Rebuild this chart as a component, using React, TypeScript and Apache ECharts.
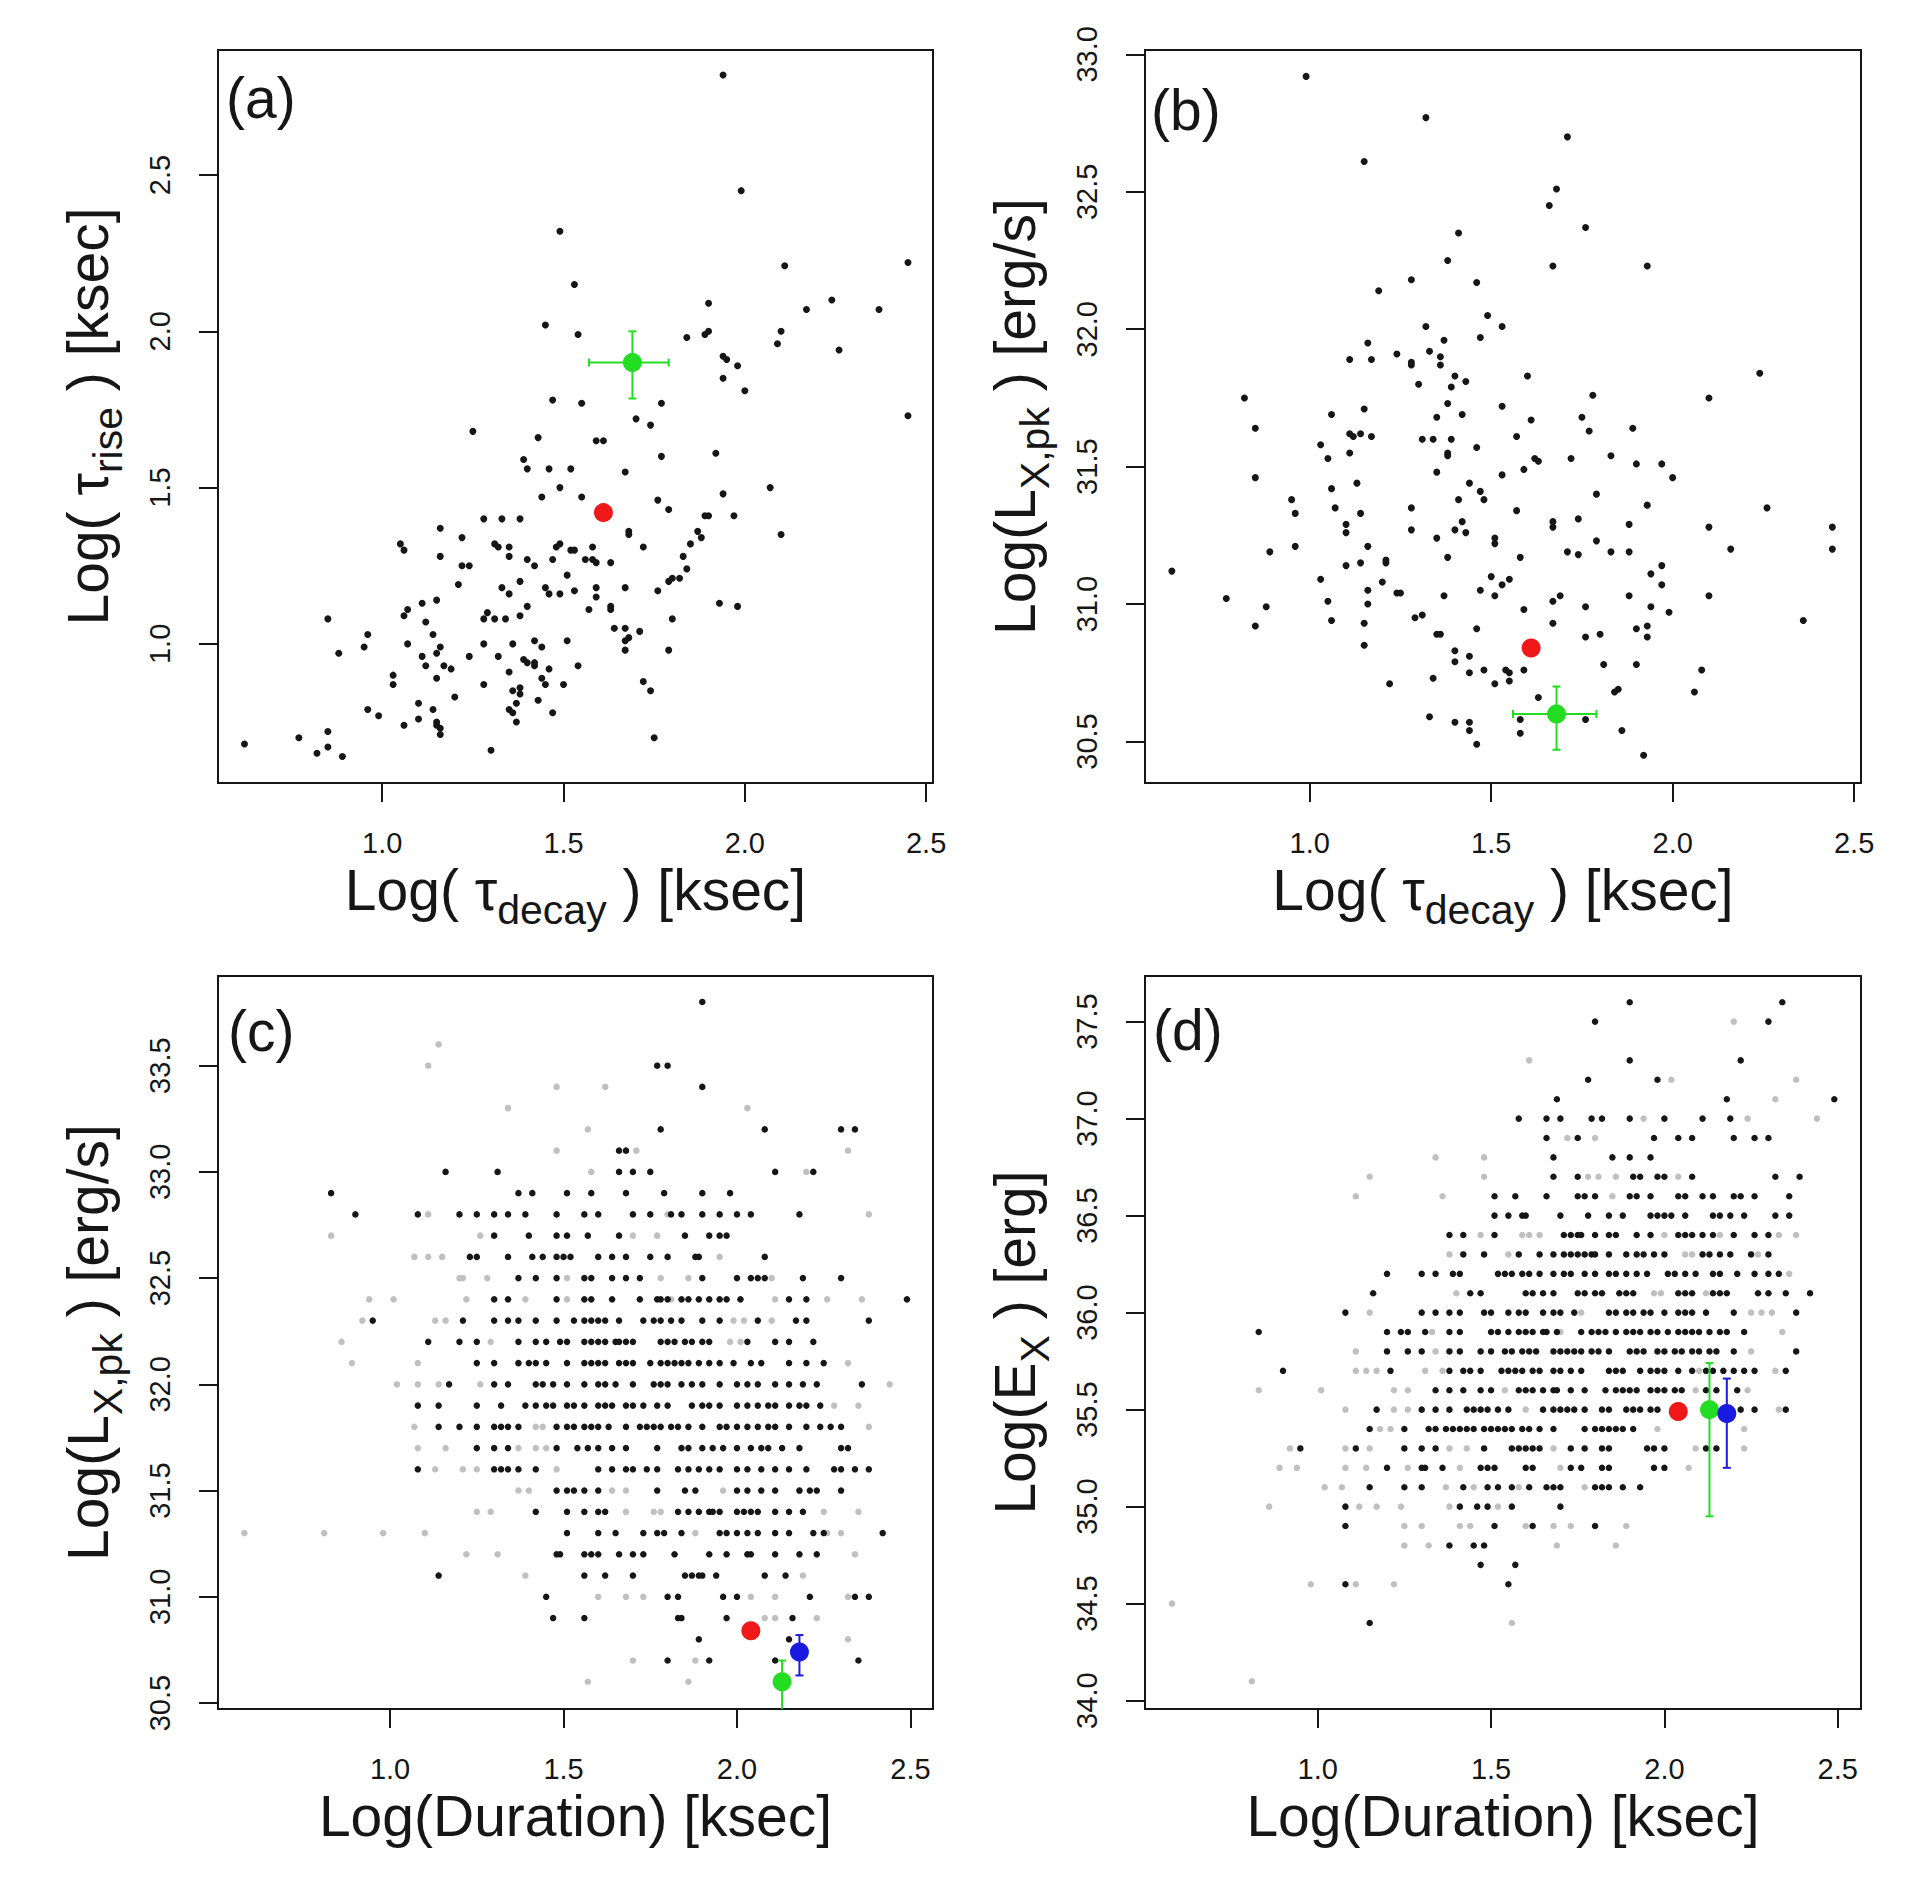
import React, { useEffect, useRef } from 'react';
import * as echarts from 'echarts';

const FONT = '"Liberation Sans", Arial, Helvetica, sans-serif';
const INK = '#161616';
const GRAY = '#c0c0c0';
const RED = '#f01818';
const GREEN = '#22dd22';
const BLUE = '#1a1ae0';

type Pt = [number, number];
type Row = [number, number[]];

// ---------- Panel (a): log tau_decay vs log tau_rise ----------
const aPoints: Pt[] = [
  [1.94,2.82],[1.99,2.45],[1.49,2.32],[2.11,2.21],[2.45,2.22],[1.53,2.15],[1.90,2.09],[2.17,2.07],[2.24,2.10],[2.37,2.07],
  [1.45,2.02],[1.54,1.99],[1.84,1.98],[1.90,2.00],[1.89,1.99],[2.10,2.00],[2.09,1.96],[2.26,1.94],
  [1.94,1.92],[1.95,1.91],[1.98,1.89],[1.94,1.85],[2.00,1.81],[1.47,1.78],[1.55,1.77],[1.77,1.77],[1.70,1.72],[1.74,1.70],[2.45,1.73],
  [1.25,1.68],[1.43,1.66],[1.59,1.65],[1.61,1.65],[1.77,1.60],[1.92,1.61],[1.39,1.59],[1.40,1.56],[1.46,1.56],[1.52,1.56],[1.67,1.55],
  [2.07,1.50],[1.49,1.50],[1.44,1.47],[1.55,1.47],[1.94,1.48],[1.76,1.46],[1.79,1.43],[1.28,1.40],[1.33,1.40],[1.38,1.40],
  [1.89,1.41],[1.90,1.41],[1.97,1.41],[1.16,1.37],[1.68,1.35],[1.68,1.36],[2.10,1.35],[1.87,1.36],[1.88,1.34],[1.22,1.34],
  [1.05,1.32],[1.06,1.30],[1.31,1.32],[1.35,1.31],[1.32,1.31],[1.48,1.31],[1.49,1.32],[1.52,1.30],[1.53,1.30],[1.58,1.31],[1.72,1.31],[1.85,1.32],
  [1.16,1.28],[1.35,1.28],[1.40,1.27],[1.42,1.25],[1.47,1.27],[1.56,1.27],[1.58,1.27],[1.59,1.26],[1.63,1.26],[1.83,1.28],
  [1.22,1.25],[1.24,1.25],[1.84,1.24],[1.51,1.22],[1.80,1.21],[1.82,1.21],[1.79,1.20],[1.38,1.20],[1.21,1.19],[1.33,1.18],[1.35,1.16],
  [1.45,1.18],[1.46,1.16],[1.49,1.16],[1.53,1.17],[1.59,1.18],[1.59,1.15],[1.67,1.18],[1.76,1.17],
  [1.15,1.14],[1.11,1.13],[1.07,1.11],[1.06,1.09],[1.40,1.12],[1.57,1.11],[1.63,1.11],[1.63,1.12],[1.93,1.13],[1.98,1.12],
  [0.85,1.08],[1.29,1.10],[1.28,1.08],[1.31,1.08],[1.34,1.08],[1.38,1.09],[1.12,1.07],[1.80,1.08],[1.64,1.05],[1.67,1.05],[1.71,1.04],[1.68,1.02],
  [0.96,1.03],[1.14,1.03],[1.67,1.01],[1.67,0.98],[1.79,0.98],[0.95,0.99],[1.07,1.00],[1.16,0.99],[1.28,1.00],[1.36,1.00],[1.42,1.01],[1.44,0.99],[1.51,1.01],
  [0.88,0.97],[1.15,0.97],[1.11,0.96],[1.12,0.93],[1.24,0.96],[1.32,0.96],[1.39,0.95],[1.40,0.94],[1.42,0.93],[1.42,0.94],
  [1.17,0.93],[1.19,0.92],[1.15,0.89],[1.46,0.92],[1.54,0.93],[1.03,0.90],[1.03,0.87],[1.35,0.91],[1.44,0.89],[1.72,0.88],[1.74,0.85],[1.28,0.87],[1.45,0.87],[1.50,0.87],
  [1.20,0.83],[1.36,0.85],[1.38,0.86],[1.38,0.84],[1.37,0.81],[0.96,0.79],[0.99,0.77],[1.35,0.79],[1.36,0.78],[1.43,0.82],[1.47,0.78],[1.10,0.81],[1.14,0.79],[1.10,0.76],[1.37,0.75],
  [1.06,0.74],[1.15,0.75],[1.15,0.74],[1.16,0.73],[1.16,0.71],[0.85,0.72],[0.77,0.70],[0.62,0.68],[0.85,0.67],[0.82,0.65],[0.89,0.64],[1.30,0.66],[1.75,0.70],
];
const aRed: Pt = [1.61, 1.42];
const aGreen: Pt = [1.69, 1.90];
const aGreenErr = [1.57, 1.79, 1.785, 2.0]; // xlo, xhi, ylo, yhi

// ---------- Panel (b): log tau_decay vs log Lx,pk ----------
const bPoints: Pt[] = [
  [0.99,32.92],[1.32,32.77],[1.71,32.70],[1.15,32.61],[1.68,32.51],[1.66,32.45],[1.76,32.37],[1.41,32.35],[1.38,32.25],[1.67,32.23],[1.93,32.23],
  [1.28,32.18],[1.46,32.17],[1.19,32.14],[1.49,32.05],[1.53,32.01],[1.32,32.01],[1.47,31.97],[1.37,31.96],[1.16,31.95],[1.33,31.92],[1.24,31.91],
  [1.36,31.90],[1.11,31.89],[1.17,31.89],[1.28,31.88],[1.28,31.87],[1.36,31.87],
  [2.24,31.84],[1.60,31.83],[1.40,31.83],[1.43,31.81],[1.30,31.80],[1.39,31.79],[0.82,31.75],[2.10,31.75],[1.78,31.76],[1.38,31.73],[1.53,31.72],
  [1.06,31.69],[1.15,31.71],[1.42,31.69],[1.35,31.68],[1.75,31.68],[1.61,31.67],[0.85,31.64],[1.77,31.63],[1.89,31.64],
  [1.11,31.62],[1.12,31.61],[1.14,31.62],[1.17,31.61],[1.31,31.60],[1.34,31.60],[1.39,31.60],[1.57,31.61],[1.03,31.58],[1.46,31.57],[1.11,31.55],
  [1.38,31.55],[1.38,31.54],[1.05,31.53],[1.63,31.52],[1.62,31.53],[1.72,31.53],[1.83,31.54],[1.90,31.51],[1.97,31.51],[1.59,31.49],
  [2.00,31.46],[0.85,31.46],[1.35,31.48],[1.53,31.47],[1.06,31.42],[1.13,31.44],[1.44,31.44],[1.47,31.41],[1.48,31.38],[1.41,31.38],[0.95,31.38],[1.79,31.40],
  [1.07,31.35],[1.28,31.35],[1.14,31.33],[0.96,31.33],[1.57,31.34],[1.93,31.36],[2.26,31.35],
  [1.10,31.29],[1.10,31.26],[1.42,31.30],[1.40,31.27],[1.43,31.26],[1.28,31.27],[1.35,31.24],[1.67,31.30],[1.67,31.28],[1.74,31.31],[1.88,31.29],
  [2.10,31.28],[2.44,31.28],[2.44,31.20],[1.51,31.24],[1.51,31.22],[1.79,31.23],
  [0.89,31.19],[0.96,31.21],[1.16,31.21],[1.38,31.17],[1.71,31.19],[1.74,31.18],[1.83,31.19],[1.88,31.19],[2.16,31.20],[1.58,31.17],
  [0.62,31.12],[1.10,31.14],[1.14,31.15],[1.21,31.16],[1.21,31.15],[1.97,31.14],[1.94,31.11],[1.03,31.09],[1.20,31.08],[1.50,31.10],[1.55,31.09],[1.53,31.07],[1.97,31.07],
  [1.16,31.05],[1.24,31.04],[1.25,31.04],[1.47,31.05],[1.51,31.03],[1.37,31.03],[1.88,31.03],[2.10,31.03],[1.69,31.03],[1.67,31.01],[0.77,31.02],[1.05,31.01],
  [1.16,31.00],[0.88,30.99],[1.76,30.99],[1.94,30.99],[1.59,30.98],[1.99,30.97],
  [1.06,30.94],[1.29,30.95],[1.31,30.96],[2.36,30.94],[0.85,30.92],[1.15,30.93],[1.67,30.93],[1.46,30.91],[1.90,30.91],[1.93,30.92],[1.93,30.88],
  [1.35,30.89],[1.36,30.89],[1.80,30.89],[1.76,30.88],[1.15,30.85],
  [1.40,30.83],[1.40,30.79],[1.44,30.81],[1.59,30.76],[1.48,30.76],[1.44,30.75],[1.54,30.76],[1.55,30.75],[1.81,30.78],[1.90,30.78],[2.08,30.76],
  [1.22,30.71],[1.34,30.73],[1.51,30.71],[1.55,30.72],[1.63,30.66],[1.84,30.68],[1.85,30.69],[2.06,30.68],
  [1.33,30.59],[1.40,30.57],[1.44,30.57],[1.44,30.54],[1.46,30.49],[1.58,30.58],[1.58,30.53],[1.76,30.58],[1.86,30.54],[1.92,30.45],
];
const bRed: Pt = [1.61, 30.84];
const bGreen: Pt = [1.68, 30.60];
const bGreenErr = [1.56, 1.79, 30.47, 30.70];

// ---------- Panel (c): log Duration vs log Lx,pk (rows of equal Lx,pk) ----------
const cBlackRows: Row[] = [
  [33.8,[1.90]],
  [33.5,[1.77,1.80]],
  [33.4,[1.90]],
  [33.2,[1.78,2.08,2.30,2.34]],
  [33.1,[1.66,1.68]],
  [33.0,[1.16,1.31,1.66,1.70,1.75,2.11,2.22]],
  [32.9,[0.83,1.37,1.41,1.51,1.58,1.68,1.79,1.90,1.98]],
  [32.8,[0.90,1.08,1.20,1.25,1.30,1.34,1.39,1.48,1.56,1.60,1.70,1.75,1.81,1.84,1.90,1.95,2.00,2.04,2.18]],
  [32.7,[1.30,1.40,1.48,1.51,1.57,1.66,1.85,1.92,1.95,1.97]],
  [32.6,[1.23,1.25,1.34,1.41,1.44,1.48,1.50,1.52,1.60,1.64,1.68,1.75,1.80,1.88,1.89,2.08]],
  [32.5,[1.37,1.42,1.48,1.56,1.58,1.64,1.68,1.72,1.90,2.00,2.04,2.06,2.08,2.19,2.30]],
  [32.4,[1.30,1.34,1.48,1.56,1.58,1.64,1.72,1.77,1.78,1.80,1.84,1.86,1.89,1.92,1.95,1.97,2.01,2.15,2.20,2.49]],
  [32.3,[0.95,1.21,1.30,1.34,1.37,1.42,1.48,1.53,1.56,1.58,1.60,1.62,1.66,1.73,1.76,1.78,1.81,1.84,1.90,1.95,2.06,2.17,2.20,2.38]],
  [32.2,[1.11,1.20,1.25,1.37,1.42,1.45,1.49,1.51,1.56,1.58,1.60,1.62,1.65,1.66,1.68,1.70,1.78,1.80,1.82,1.85,1.87,1.90,1.92,2.03,2.11,2.15,2.22]],
  [32.1,[1.25,1.30,1.37,1.40,1.42,1.45,1.51,1.56,1.58,1.60,1.62,1.66,1.68,1.70,1.75,1.78,1.80,1.82,1.84,1.86,1.89,1.92,1.95,1.99,2.04,2.07,2.15,2.20,2.25]],
  [32.0,[1.17,1.30,1.34,1.42,1.44,1.47,1.51,1.56,1.60,1.62,1.65,1.70,1.76,1.78,1.80,1.84,1.87,1.90,1.95,2.00,2.03,2.06,2.11,2.15,2.19,2.23,2.36]],
  [31.9,[1.08,1.14,1.25,1.32,1.39,1.42,1.45,1.47,1.51,1.53,1.56,1.60,1.62,1.64,1.68,1.70,1.73,1.77,1.80,1.87,1.90,1.92,1.95,2.00,2.03,2.06,2.09,2.11,2.15,2.18,2.20,2.24]],
  [31.8,[1.14,1.20,1.25,1.30,1.32,1.34,1.37,1.48,1.51,1.53,1.56,1.58,1.60,1.63,1.68,1.72,1.74,1.76,1.78,1.81,1.83,1.86,1.90,1.95,1.97,2.00,2.03,2.06,2.09,2.11,2.15,2.20,2.24,2.27,2.30]],
  [31.7,[1.25,1.30,1.34,1.48,1.54,1.57,1.60,1.64,1.68,1.77,1.84,1.86,1.90,1.93,1.96,2.00,2.04,2.07,2.09,2.13,2.18,2.30,2.32]],
  [31.6,[1.08,1.30,1.32,1.34,1.37,1.42,1.60,1.64,1.68,1.70,1.74,1.77,1.83,1.86,1.89,1.92,1.95,2.00,2.03,2.07,2.11,2.15,2.20,2.28,2.30,2.34,2.38]],
  [31.5,[1.48,1.51,1.53,1.56,1.60,1.77,1.85,1.88,2.00,2.03,2.07,2.11,2.18,2.21,2.23,2.30]],
  [31.4,[1.42,1.51,1.56,1.60,1.62,1.83,1.86,1.89,1.92,1.93,1.95,2.00,2.02,2.04,2.06,2.11,2.15,2.19]],
  [31.3,[1.51,1.60,1.65,1.73,1.77,1.79,1.84,1.95,1.97,2.00,2.03,2.06,2.11,2.15,2.22,2.25,2.42]],
  [31.2,[1.48,1.49,1.56,1.58,1.60,1.66,1.70,1.73,1.82,1.92,1.97,2.03,2.04,2.11,2.18,2.23]],
  [31.1,[1.14,1.56,1.62,1.70,1.85,1.87,1.89,1.90,1.94,2.08,2.14]],
  [31.0,[1.45,1.80,1.83,1.96,2.00,2.21,2.34,2.38]],
  [30.9,[1.47,1.56,1.83,1.84,1.97,2.16]],
  [30.8,[1.89,2.15]],
  [30.7,[1.80,1.92,2.11,2.35]],
];
const cGrayRows: Row[] = [
  [33.6,[1.14]],
  [33.5,[1.11]],
  [33.4,[1.48,1.62]],
  [33.3,[1.34,2.03]],
  [33.2,[1.57]],
  [33.1,[1.48,1.71,2.32]],
  [33.0,[1.58,2.20]],
  [32.8,[1.11,1.80,2.38]],
  [32.7,[0.83,1.26,1.70,1.77]],
  [32.6,[1.07,1.11,1.15,1.95]],
  [32.5,[1.20,1.21,1.28,1.51,1.78,1.86,2.10]],
  [32.4,[0.94,1.01,1.22,1.39,1.51,1.81,2.11,2.26,2.36]],
  [32.3,[0.92,1.13,1.16,1.99,2.02,2.10]],
  [32.2,[0.86,1.29,1.98,2.01]],
  [32.1,[0.89,1.08,1.37,2.32]],
  [32.0,[1.02,1.08,1.14,1.26,2.44]],
  [31.9,[2.28,2.35]],
  [31.8,[1.07,1.42,1.44,2.38]],
  [31.7,[1.08,1.16,1.37,1.42,1.45]],
  [31.6,[1.13,1.21,1.25,1.48]],
  [31.5,[1.37,1.40,1.64,1.68,1.96,2.18]],
  [31.4,[1.25,1.29,1.68,1.76,1.78,2.25,2.35]],
  [31.3,[0.58,0.81,0.98,1.10,1.88,2.26,2.30]],
  [31.2,[1.22,1.31,2.34]],
  [31.1,[1.39,2.19]],
  [31.0,[1.60,1.68,1.73,2.04,2.11,2.32]],
  [30.9,[2.08,2.11,2.23]],
  [30.8,[2.32]],
  [30.7,[1.70,1.88]],
  [30.6,[1.57,1.86]],
];
const cRed: Pt = [2.04, 30.84];
const cGreen: Pt = [2.13, 30.60];
const cGreenErr = [2.13, 2.13, 30.46, 30.70];
const cBlue: Pt = [2.18, 30.74];
const cBlueErr = [2.18, 2.18, 30.63, 30.82];

// ---------- Panel (d): log Duration vs log Ex (rows of equal Ex) ----------
const dBlackRows: Row[] = [
  [37.6,[1.90,2.34]],
  [37.5,[1.80,2.30]],
  [37.3,[1.90,2.22]],
  [37.2,[1.78,1.98]],
  [37.1,[1.69,2.18,2.49]],
  [37.0,[1.58,1.66,1.70,1.79,1.82,1.90,2.00,2.11,2.19]],
  [36.9,[1.66,1.75,1.97,2.04,2.08,2.20,2.26,2.30]],
  [36.8,[1.68,1.85,1.90,1.96]],
  [36.7,[1.68,1.75,1.91,1.93,1.98,2.00,2.08,2.32,2.39]],
  [36.6,[1.51,1.57,1.66,1.75,1.77,1.80,1.90,1.92,1.96,2.04,2.06,2.11,2.14,2.20,2.22,2.26,2.36]],
  [36.5,[1.51,1.55,1.59,1.60,1.70,1.78,1.84,1.88,1.96,1.98,2.00,2.02,2.06,2.14,2.16,2.19,2.23,2.32,2.36]],
  [36.4,[1.38,1.42,1.51,1.71,1.73,1.75,1.76,1.80,1.84,1.86,1.92,1.96,2.04,2.06,2.08,2.11,2.14,2.20,2.26,2.30]],
  [36.3,[1.42,1.48,1.58,1.64,1.68,1.71,1.73,1.75,1.77,1.79,1.80,1.84,1.89,1.92,1.94,1.97,2.00,2.11,2.13,2.16,2.19,2.25,2.30]],
  [36.2,[1.20,1.30,1.34,1.39,1.41,1.52,1.54,1.56,1.59,1.61,1.64,1.68,1.71,1.73,1.77,1.80,1.84,1.86,1.89,1.92,1.95,2.01,2.03,2.06,2.09,2.14,2.16,2.21,2.26,2.30,2.33]],
  [36.1,[1.16,1.44,1.47,1.60,1.62,1.65,1.68,1.75,1.77,1.80,1.82,1.87,1.89,1.91,2.04,2.06,2.08,2.14,2.16,2.18,2.27,2.30,2.35,2.42]],
  [36.0,[1.08,1.30,1.34,1.38,1.41,1.48,1.50,1.55,1.58,1.60,1.65,1.68,1.70,1.74,1.84,1.86,1.89,1.91,1.94,1.96,2.00,2.04,2.06,2.08,2.12,2.20,2.38]],
  [35.9,[0.83,1.20,1.24,1.26,1.31,1.38,1.41,1.50,1.52,1.55,1.58,1.60,1.62,1.65,1.66,1.69,1.76,1.79,1.81,1.83,1.86,1.89,1.91,1.93,1.96,1.98,2.01,2.04,2.06,2.08,2.10,2.13,2.16,2.18,2.23]],
  [35.8,[1.20,1.26,1.30,1.38,1.41,1.47,1.50,1.54,1.56,1.59,1.61,1.63,1.68,1.70,1.72,1.74,1.76,1.79,1.81,1.84,1.90,1.92,1.94,1.98,2.00,2.03,2.05,2.08,2.10,2.13,2.15,2.20,2.38]],
  [35.7,[0.90,1.21,1.38,1.42,1.44,1.47,1.53,1.55,1.57,1.59,1.62,1.64,1.68,1.70,1.73,1.76,1.84,1.86,1.88,1.93,1.96,1.98,2.00,2.04,2.08,2.12,2.14,2.17,2.20,2.23,2.26,2.35]],
  [35.6,[1.34,1.38,1.42,1.47,1.50,1.58,1.60,1.62,1.65,1.68,1.69,1.73,1.77,1.83,1.86,1.88,1.90,1.92,1.96,1.98,2.00,2.03,2.05,2.12,2.15,2.21]],
  [35.5,[1.17,1.30,1.34,1.38,1.43,1.45,1.47,1.49,1.52,1.55,1.65,1.68,1.70,1.72,1.74,1.77,1.82,1.84,1.89,1.91,1.93,1.96,1.98,2.22,2.26,2.35]],
  [35.4,[1.15,1.25,1.32,1.34,1.37,1.39,1.41,1.43,1.45,1.48,1.50,1.52,1.54,1.56,1.59,1.61,1.64,1.68,1.77,1.80,1.82,1.84,1.86,1.88,1.91]],
  [35.3,[0.95,1.11,1.25,1.30,1.34,1.48,1.56,1.58,1.60,1.62,1.64,1.73,1.77,1.82,1.84,1.95,1.97,2.00,2.12,2.15]],
  [35.2,[1.20,1.30,1.31,1.36,1.47,1.49,1.51,1.60,1.62,1.73,1.76,1.82,1.84,1.97,2.00]],
  [35.1,[1.15,1.25,1.30,1.42,1.49,1.52,1.56,1.61,1.66,1.68,1.70,1.80,1.82,1.84,1.88,1.93]],
  [35.0,[1.08,1.41,1.46,1.49,1.56,1.70]],
  [34.9,[1.08,1.51,1.62,1.80]],
  [34.8,[1.38,1.45,1.48]],
  [34.7,[1.47,1.57]],
  [34.6,[1.08,1.55]],
  [34.4,[1.15]],
];
const dGrayRows: Row[] = [
  [37.5,[2.20]],
  [37.3,[1.61]],
  [37.2,[2.02,2.38]],
  [37.1,[2.32]],
  [37.0,[1.94,2.24,2.44]],
  [36.9,[1.72,1.80]],
  [36.8,[1.34,1.48]],
  [36.7,[1.15,1.48,1.78,1.81,1.86,2.04]],
  [36.6,[1.11,1.36,1.85]],
  [36.4,[1.47,1.59,1.61,1.64,2.00,2.16,2.33,2.38]],
  [36.3,[1.38,1.55,2.06,2.08,2.27]],
  [36.2,[2.36]],
  [36.1,[1.40,1.97,1.99,2.12]],
  [36.0,[1.15,1.76,2.25,2.28,2.31]],
  [35.9,[1.33,1.70,2.34]],
  [35.8,[1.11,1.34,2.25]],
  [35.7,[1.11,1.14,1.17,1.31,1.36,2.10,2.32]],
  [35.6,[0.83,1.01,1.22,1.26,1.54,2.09,2.24]],
  [35.5,[1.08,1.22,1.26,1.60,2.33]],
  [35.4,[1.18,1.21,1.98,2.23]],
  [35.3,[0.92,1.08,1.15,1.38,1.43,1.68,2.09,2.23]],
  [35.2,[0.89,0.94,1.08,1.14,1.26,1.41,1.70,2.07]],
  [35.1,[1.02,1.07,1.37,1.45,1.58,1.77]],
  [35.0,[0.86,1.12,1.17,1.24,1.38,1.52]],
  [34.9,[1.25,1.30,1.41,1.44,1.60,1.68,1.73,1.89]],
  [34.8,[1.25,1.32,1.69,1.86]],
  [34.6,[0.98,1.11,1.22]],
  [34.5,[0.58]],
  [34.4,[1.56]],
  [34.1,[0.81]],
];
const dRed: Pt = [2.04, 35.49];
const dGreen: Pt = [2.13, 35.50];
const dGreenErr = [2.13, 2.13, 34.95, 35.74];
const dBlue: Pt = [2.18, 35.48];
const dBlueErr = [2.18, 2.18, 35.20, 35.66];

// ---------- axes ----------
const xTicks = [1.0, 1.5, 2.0, 2.5];
const aYTicks = [1.0, 1.5, 2.0, 2.5];
const bYTicks = [30.5, 31.0, 31.5, 32.0, 32.5, 33.0];
const cYTicks = [30.5, 31.0, 31.5, 32.0, 32.5, 33.0, 33.5];
const dYTicks = [34.0, 34.5, 35.0, 35.5, 36.0, 36.5, 37.0, 37.5];
const xRanges: Pt[] = [[0.547, 2.519], [0.546, 2.519], [0.504, 2.565], [0.502, 2.567]];
const yRanges: Pt[] = [[0.555, 2.90], [30.349, 33.016], [30.472, 33.922], [33.957, 37.735]];
const xTitles = [
  '{m|Log( τ}{s|decay}{m| ) [ksec]}',
  '{m|Log( τ}{s|decay}{m| ) [ksec]}',
  '{m|Log(Duration) [ksec]}',
  '{m|Log(Duration) [ksec]}',
];
const yTitles = [
  '{m|Log( τ}{s|rise}{m| ) [ksec]}',
  '{m|Log(L}{s|X,pk}{m| ) [erg/s]}',
  '{m|Log(L}{s|X,pk}{m| ) [erg/s]}',
  '{m|Log(E}{s|X}{m| ) [erg]}',
];
const panelLabels = ['(a)', '(b)', '(c)', '(d)'];

const rowsToPoints = (rows: Row[]): Pt[] => rows.flatMap(([y, xs]) => xs.map((x) => [x, y] as Pt));

export default function App() {
  const ref = useRef<HTMLDivElement>(null);

  useEffect(() => {
    document.body.style.margin = '0';
    const chart = echarts.init(ref.current!, null, { renderer: 'svg' });

    const grids = [
      { left: 218, top: 50, width: 715, height: 733 },
      { left: 1145, top: 50, width: 716, height: 733 },
      { left: 218, top: 976, width: 715, height: 733 },
      { left: 1145, top: 976, width: 716, height: 733 },
    ];
    const yTickSets = [aYTicks, bYTicks, cYTicks, dYTicks];

    const rich = {
      m: { fontSize: 57, fontFamily: FONT, color: INK, lineHeight: 60, verticalAlign: 'top' },
      s: { fontSize: 41, fontFamily: FONT, color: INK, lineHeight: 40, padding: [28, 0, 0, 0], verticalAlign: 'top' },
    };

    const tickStyle = { color: INK, width: 2 };
    const labelStyle = { fontSize: 29, fontFamily: FONT, color: INK };

    const xAxes = grids.map((_, i) => ({
      type: 'value',
      gridIndex: i,
      min: xRanges[i][0],
      max: xRanges[i][1],
      axisLine: { show: false },
      splitLine: { show: false },
      axisTick: { show: true, inside: false, length: 19, customValues: xTicks, lineStyle: tickStyle },
      axisLabel: { ...labelStyle, margin: 45, customValues: xTicks, formatter: (v: number) => v.toFixed(1) },
      name: xTitles[i],
      nameLocation: 'middle',
      nameGap: 78,
      nameMoveOverlap: false,
      nameTextStyle: { fontSize: 57, fontFamily: FONT, color: INK, rich },
    }));
    const yAxes = grids.map((_, i) => ({
      type: 'value',
      gridIndex: i,
      min: yRanges[i][0],
      max: yRanges[i][1],
      axisLine: { show: false },
      splitLine: { show: false },
      axisTick: { show: true, inside: false, length: 19, customValues: yTickSets[i], lineStyle: tickStyle },
      axisLabel: { ...labelStyle, margin: 44, rotate: 90, customValues: yTickSets[i], formatter: (v: number) => v.toFixed(1) },
      name: yTitles[i],
      nameLocation: 'middle',
      nameRotate: 90,
      nameGap: 99,
      nameMoveOverlap: false,
      nameTextStyle: { fontSize: 57, fontFamily: FONT, color: INK, rich },
    }));

    const scatter = (i: number, data: Pt[], color: string, size: number, z: number) => ({
      type: 'scatter',
      xAxisIndex: i,
      yAxisIndex: i,
      data,
      symbol: 'circle',
      symbolSize: size,
      itemStyle: { color, opacity: 1 },
      silent: true,
      z,
      clip: true,
    });

    const errBar = (i: number, center: Pt, err: number[], color: string) => ({
      type: 'custom',
      xAxisIndex: i,
      yAxisIndex: i,
      clip: true,
      silent: true,
      z: 3,
      data: [[center[0], center[1], err[0], err[1], err[2], err[3]]],
      renderItem: (_params: any, api: any) => {
        const x = api.value(0);
        const y = api.value(1);
        const xlo = api.value(2);
        const xhi = api.value(3);
        const ylo = api.value(4);
        const yhi = api.value(5);
        const style = { stroke: color, lineWidth: 2 };
        const cap = 4;
        const children: any[] = [];
        if (xhi > xlo) {
          const a = api.coord([xlo, y]);
          const b = api.coord([xhi, y]);
          children.push({ type: 'line', shape: { x1: a[0], y1: a[1], x2: b[0], y2: b[1] }, style });
          children.push({ type: 'line', shape: { x1: a[0], y1: a[1] - cap, x2: a[0], y2: a[1] + cap }, style });
          children.push({ type: 'line', shape: { x1: b[0], y1: b[1] - cap, x2: b[0], y2: b[1] + cap }, style });
        }
        if (yhi > ylo) {
          const a = api.coord([x, ylo]);
          const b = api.coord([x, yhi]);
          children.push({ type: 'line', shape: { x1: a[0], y1: a[1], x2: b[0], y2: b[1] }, style });
          children.push({ type: 'line', shape: { x1: a[0] - cap, y1: a[1], x2: a[0] + cap, y2: a[1] }, style });
          children.push({ type: 'line', shape: { x1: b[0] - cap, y1: b[1], x2: b[0] + cap, y2: b[1] }, style });
        }
        return { type: 'group', children };
      },
    });

    const BIG = 19;
    const DOT = 7;
    const GRID_DOT = 6.5;
    const series: any[] = [
      scatter(0, aPoints, INK, DOT, 2),
      errBar(0, aGreen, aGreenErr, GREEN),
      scatter(0, [aRed], RED, BIG, 4),
      scatter(0, [aGreen], GREEN, BIG, 4),

      scatter(1, bPoints, INK, DOT, 2),
      errBar(1, bGreen, bGreenErr, GREEN),
      scatter(1, [bRed], RED, BIG, 4),
      scatter(1, [bGreen], GREEN, BIG, 4),

      scatter(2, rowsToPoints(cGrayRows), GRAY, GRID_DOT, 1),
      scatter(2, rowsToPoints(cBlackRows), INK, GRID_DOT, 2),
      errBar(2, cGreen, cGreenErr, GREEN),
      errBar(2, cBlue, cBlueErr, BLUE),
      scatter(2, [cRed], RED, BIG, 4),
      scatter(2, [cGreen], GREEN, BIG, 4),
      scatter(2, [cBlue], BLUE, BIG, 4),

      scatter(3, rowsToPoints(dGrayRows), GRAY, GRID_DOT, 1),
      scatter(3, rowsToPoints(dBlackRows), INK, GRID_DOT, 2),
      errBar(3, dGreen, dGreenErr, GREEN),
      errBar(3, dBlue, dBlueErr, BLUE),
      scatter(3, [dRed], RED, BIG, 4),
      scatter(3, [dGreen], GREEN, BIG, 4),
      scatter(3, [dBlue], BLUE, BIG, 4),
    ];

    const labelPos: Pt[] = [[226, 98], [1151, 110], [228, 1031], [1153, 1030]];

    chart.setOption({
      animation: false,
      backgroundColor: '#ffffff',
      grid: grids.map((g) => ({
        ...g,
        show: true,
        borderColor: INK,
        borderWidth: 2,
        backgroundColor: 'transparent',
        outerBoundsMode: 'none',
        containLabel: false,
      })),
      xAxis: xAxes,
      yAxis: yAxes,
      series,
      graphic: panelLabels.map((t, i) => ({
        type: 'text',
        x: labelPos[i][0],
        y: labelPos[i][1],
        silent: true,
        z: 10,
        style: { text: t, fontSize: 57, fontFamily: FONT, fill: INK, align: 'left', verticalAlign: 'middle' },
      })),
    });

    return () => chart.dispose();
  }, []);

  return <div ref={ref} style={{ width: 1920, height: 1883, background: '#fff' }} />;
}
